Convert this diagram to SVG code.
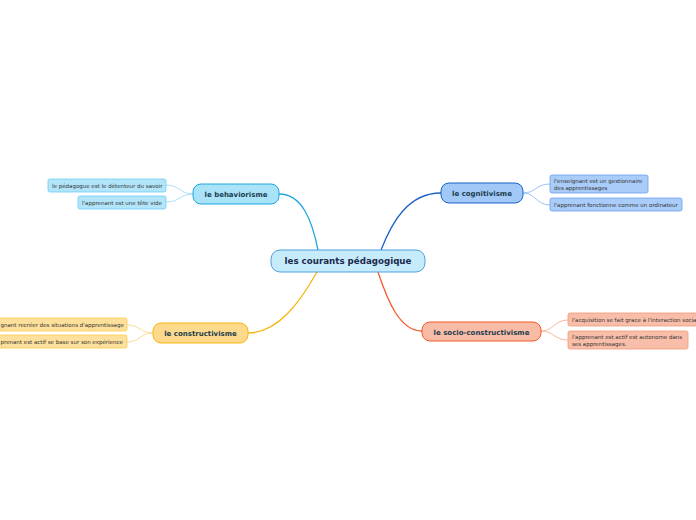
<svg xmlns="http://www.w3.org/2000/svg" width="696" height="520" viewBox="0 0 696 520">
<style>
text{font-family:"DejaVu Sans","Verdana",sans-serif}
.main{font-weight:bold;font-size:7px;fill:#1b3d4f}
.center{font-weight:bold;font-size:8.7px;fill:#1a2a4e}
.leaf{font-size:5.5px;fill:#333}
.c{fill:none;stroke-width:1.3}
.l{fill:none;stroke-width:0.8}
</style>
<rect width="696" height="520" fill="#ffffff"/>
<g id="connectors">
<path class="c" d="M279,194 C302,194 312,220 318,250" stroke="#1ea7df"/>
<path class="c" d="M381,250 C392,222 408,193 441,193" stroke="#1a62c9"/>
<path class="c" d="M317,272 C300,302 278,333 248,333" stroke="#f9b50f"/>
<path class="c" d="M378,272 C388,302 400,331 422,331" stroke="#f35a2a"/>
<path class="l" d="M193,194 C180,194 180,185 166,185" stroke="#8fd8f5"/>
<path class="l" d="M193,194 C180,194 180,202 166,202" stroke="#8fd8f5"/>
<path class="l" d="M523,193 C536,193 536,184 550,184" stroke="#86b2f2"/>
<path class="l" d="M523,193 C536,193 536,205 550,205" stroke="#86b2f2"/>
<path class="l" d="M153,333 C140,333 140,325 127,325" stroke="#fdd27a"/>
<path class="l" d="M153,333 C140,333 140,342 127,342" stroke="#fdd27a"/>
<path class="l" d="M541,331 C554,331 554,320 568,320" stroke="#f6a58a"/>
<path class="l" d="M541,331 C554,331 554,340 568,340" stroke="#f6a58a"/>
</g>
<g id="center">
<rect x="271" y="250" width="154" height="22" rx="9" fill="#c6ebfb" stroke="#4c9fdc" stroke-width="1"/>
<text class="center" x="348" y="264" text-anchor="middle">les courants pédagogique</text>
</g>
<g id="behaviorisme">
<rect x="193" y="184" width="86" height="20" rx="8" fill="#a9e3f8" stroke="#1ea7df" stroke-width="1"/>
<text class="main" x="236" y="197" text-anchor="middle">le behaviorisme</text>
</g>
<g id="b1">
<rect x="48" y="179" width="118" height="13" rx="2" fill="#b2e5f9" stroke="#72cdf2" stroke-width="0.8"/>
<text class="leaf" x="52" y="187.5">le pédagogue est le détenteur du savoir</text>
</g>
<g id="b2">
<rect x="78" y="196" width="88" height="13" rx="2" fill="#b2e5f9" stroke="#72cdf2" stroke-width="0.8"/>
<text class="leaf" x="82" y="204.5">l'apprenant est une tête vide</text>
</g>
<g id="cognitivisme">
<rect x="441" y="183" width="82" height="20" rx="8" fill="#a1c8f7" stroke="#1a62c9" stroke-width="1"/>
<text class="main" x="482" y="196" text-anchor="middle">le cognitivisme</text>
</g>
<g id="g1">
<rect x="550" y="175" width="98" height="18" rx="2" fill="#a9ccf8" stroke="#6c9ef0" stroke-width="0.8"/>
<text class="leaf" x="554" y="182.5">l'enseignant est un gestionnaire</text>
<text class="leaf" x="554" y="189.5">des apprentissages</text>
</g>
<g id="g2">
<rect x="550" y="198" width="132" height="13" rx="2" fill="#a9ccf8" stroke="#6c9ef0" stroke-width="0.8"/>
<text class="leaf" x="554" y="206.5">l'apprenant fonctionne comme un ordinateur</text>
</g>
<g id="constructivisme">
<rect x="153" y="323" width="95" height="20" rx="8" fill="#fdd98b" stroke="#f9b50f" stroke-width="1"/>
<text class="main" x="200.5" y="336" text-anchor="middle">le constructivisme</text>
</g>
<g id="k1">
<rect x="-20" y="318" width="147" height="13" rx="2" fill="#fde09c" stroke="#fccb48" stroke-width="0.8"/>
<text class="leaf" x="0.5" y="326.5">gnant recréer des situations d'apprentissage</text>
</g>
<g id="k2">
<rect x="-20" y="335" width="147" height="13" rx="2" fill="#fde09c" stroke="#fccb48" stroke-width="0.8"/>
<text class="leaf" x="0.5" y="343.5">prenant est actif se base sur son expérience</text>
</g>
<g id="socio">
<rect x="422" y="322" width="119" height="19" rx="8" fill="#f8bba5" stroke="#f35a2a" stroke-width="1"/>
<text class="main" x="481.5" y="334.5" text-anchor="middle">le socio-constructivisme</text>
</g>
<g id="s1">
<rect x="568" y="313" width="140" height="13" rx="2" fill="#f9bea9" stroke="#f39a78" stroke-width="0.8"/>
<text class="leaf" x="572" y="321.5">l'acquisition se fait grace à l'interaction sociale</text>
</g>
<g id="s2">
<rect x="568" y="331" width="120" height="18" rx="2" fill="#f9bea9" stroke="#f39a78" stroke-width="0.8"/>
<text class="leaf" x="572" y="338.5">l'apprenant est actif est autonome dans</text>
<text class="leaf" x="572" y="345.5">ses apprentissages.</text>
</g>
</svg>
